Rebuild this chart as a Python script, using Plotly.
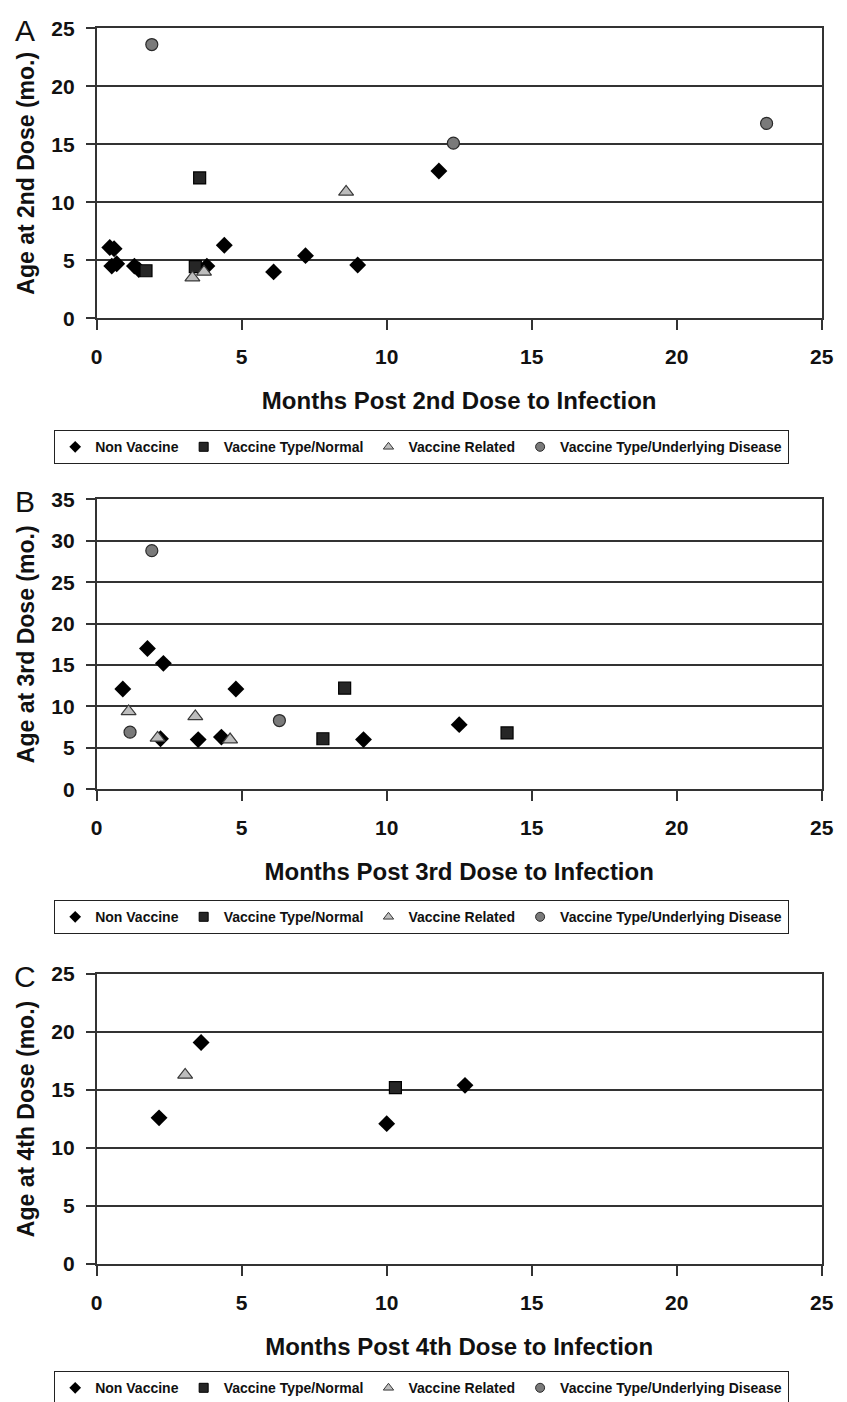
import plotly.graph_objects as go

# ---------------- data ----------------
series_names = ["Non Vaccine", "Vaccine Type/Normal", "Vaccine Related", "Vaccine Type/Underlying Disease"]
x_ticks = [0, 5, 10, 15, 20, 25]

# Panel A: months post 2nd dose vs age at 2nd dose
A_non_x = [0.45, 0.6, 0.52, 0.69, 1.3, 1.45, 3.8, 4.4, 6.1, 7.2, 9.0, 11.8]
A_non_y = [6.1, 6.0, 4.5, 4.7, 4.5, 4.2, 4.5, 6.3, 4.0, 5.4, 4.6, 12.7]
A_vtn_x = [1.7, 3.4, 3.55]
A_vtn_y = [4.1, 4.45, 12.1]
A_vr_x = [3.3, 3.7, 8.6]
A_vr_y = [3.5, 4.0, 10.9]
A_vud_x = [1.9, 12.3, 23.1]
A_vud_y = [23.6, 15.1, 16.8]

# Panel B: months post 3rd dose vs age at 3rd dose
B_non_x = [0.9, 1.75, 2.3, 2.2, 3.5, 4.3, 4.8, 9.2, 12.5]
B_non_y = [12.1, 17.0, 15.2, 6.1, 6.0, 6.3, 12.1, 6.0, 7.8]
B_vtn_x = [7.8, 8.55, 14.15]
B_vtn_y = [6.1, 12.2, 6.8]
B_vr_x = [1.1, 2.1, 3.4, 4.6]
B_vr_y = [9.4, 6.2, 8.8, 6.0]
B_vud_x = [1.15, 1.9, 6.3]
B_vud_y = [6.9, 28.8, 8.3]

# Panel C: months post 4th dose vs age at 4th dose
C_non_x = [2.15, 3.6, 10.0, 12.7]
C_non_y = [12.6, 19.1, 12.1, 15.4]
C_vtn_x = [10.3]
C_vtn_y = [15.2]
C_vr_x = [3.05]
C_vr_y = [16.3]
C_vud_x = []
C_vud_y = []

panels = [
    dict(letter="A", dose="2nd", ymax=25, legend="legend",
         data=[(A_non_x, A_non_y), (A_vtn_x, A_vtn_y), (A_vr_x, A_vr_y), (A_vud_x, A_vud_y)]),
    dict(letter="B", dose="3rd", ymax=35, legend="legend2",
         data=[(B_non_x, B_non_y), (B_vtn_x, B_vtn_y), (B_vr_x, B_vr_y), (B_vud_x, B_vud_y)]),
    dict(letter="C", dose="4th", ymax=25, legend="legend3",
         data=[(C_non_x, C_non_y), (C_vtn_x, C_vtn_y), (C_vr_x, C_vr_y), (C_vud_x, C_vud_y)]),
]

# ---------------- styles ----------------
W, H = 847, 1402
OFF = 8  # page body margin: figure canvas starts 8px in from the window corner
FONT = "Arial, Liberation Sans, Helvetica, sans-serif"
symbols = ["diamond", "square", "triangle-up", "circle"]
fills = ["#000000", "#262626", "#bdbdbd", "#7a7a7a"]
lines = ["#000000", "#000000", "#3a3a3a", "#2a2a2a"]
sizes = [13, 12, 13, 12]
leg_sizes = [9, 9, 9, 9]

# target pixel geometry (window coordinates)
x_left, x_right = 96.7 - OFF, 821.7 - OFF
plot_tops = [28.3 - OFF, 499.3 - OFF, 974.0 - OFF]
plot_h = 290.0
legend_centers = [447 - OFF, 917 - OFF, 1388 - OFF]
legend_cx = 421.5 - OFF
letter_cx = 25 - OFF

fig = go.Figure()
layout = dict(
    width=W, height=H, margin=dict(l=0, r=0, t=0, b=0),
    paper_bgcolor="white", plot_bgcolor="white",
    font=dict(family=FONT, color="#111111"),
    showlegend=True, annotations=[],
)

for i, p in enumerate(panels):
    ax = "" if i == 0 else str(i + 1)
    xa, ya = "x" + ax, "y" + ax
    for k in range(4):
        xs, ys = p["data"][k]
        fig.add_trace(go.Scatter(
            x=xs, y=ys, mode="markers", name=series_names[k],
            xaxis=xa, yaxis=ya, showlegend=False, legend=p["legend"],
            marker=dict(symbol=symbols[k], size=sizes[k], color=fills[k],
                        line=dict(color=lines[k], width=1.2 if k else 0)),
        ))
    # legend entries
    for k in range(4):
        fig.add_trace(go.Scatter(
            x=[None], y=[None], mode="markers", name=series_names[k],
            xaxis=xa, yaxis=ya, showlegend=True, legend=p["legend"],
            marker=dict(symbol=symbols[k], size=leg_sizes[k], color=fills[k],
                        line=dict(color=lines[k], width=1 if k else 0)),
        ))
    top = plot_tops[i]
    dom_y = [1 - (top + plot_h) / H, 1 - top / H]
    dom_x = [x_left / W, x_right / W]
    layout["xaxis" + ax] = dict(
        domain=dom_x, anchor=ya, range=[0, 25], tickvals=x_ticks, automargin=False,
        showgrid=False, zeroline=False, showline=True, linecolor="#333333", linewidth=1.6,
        mirror=True, ticks="outside", ticklen=10, tickwidth=1.6, tickcolor="#333333",
        tickfont=dict(family=FONT, size=21, weight="bold", color="#111111"),
        ticklabelstandoff=9,
        title=dict(text="Months Post %s Dose to Infection" % p["dose"], standoff=25,
                   font=dict(family=FONT, size=24, weight="bold", color="#111111")),
        fixedrange=True,
    )
    layout["yaxis" + ax] = dict(
        domain=dom_y, anchor=xa, range=[0, p["ymax"]], dtick=5, automargin=False,
        showgrid=True, gridcolor="#333333", gridwidth=1.6, zeroline=False,
        showline=True, linecolor="#333333", linewidth=1.6, mirror=True,
        ticks="outside", ticklen=9, tickwidth=1.6, tickcolor="#333333",
        tickfont=dict(family=FONT, size=21, weight="bold", color="#111111"),
        ticklabelstandoff=7,
        title=dict(text="Age at %s Dose (mo.)" % p["dose"], standoff=10,
                   font=dict(family=FONT, size=23, weight="bold", color="#111111")),
        fixedrange=True,
    )
    layout[p["legend"]] = dict(
        orientation="h", x=legend_cx / W, xanchor="center",
        y=1 - legend_centers[i] / H, yanchor="middle",
        bordercolor="#222222", borderwidth=1.2, bgcolor="white",
        font=dict(family=FONT, size=14, weight="bold", color="#111111"),
        itemwidth=30, tracegroupgap=0, traceorder="normal",
    )
    layout["annotations"].append(dict(
        text=p["letter"], x=letter_cx / W, y=1 - (top + 2) / H, xref="paper", yref="paper",
        xanchor="center", yanchor="middle", showarrow=False,
        font=dict(family=FONT, size=30, color="#111111"),
    ))

fig.update_layout(**layout)
fig.write_html("out.html")
